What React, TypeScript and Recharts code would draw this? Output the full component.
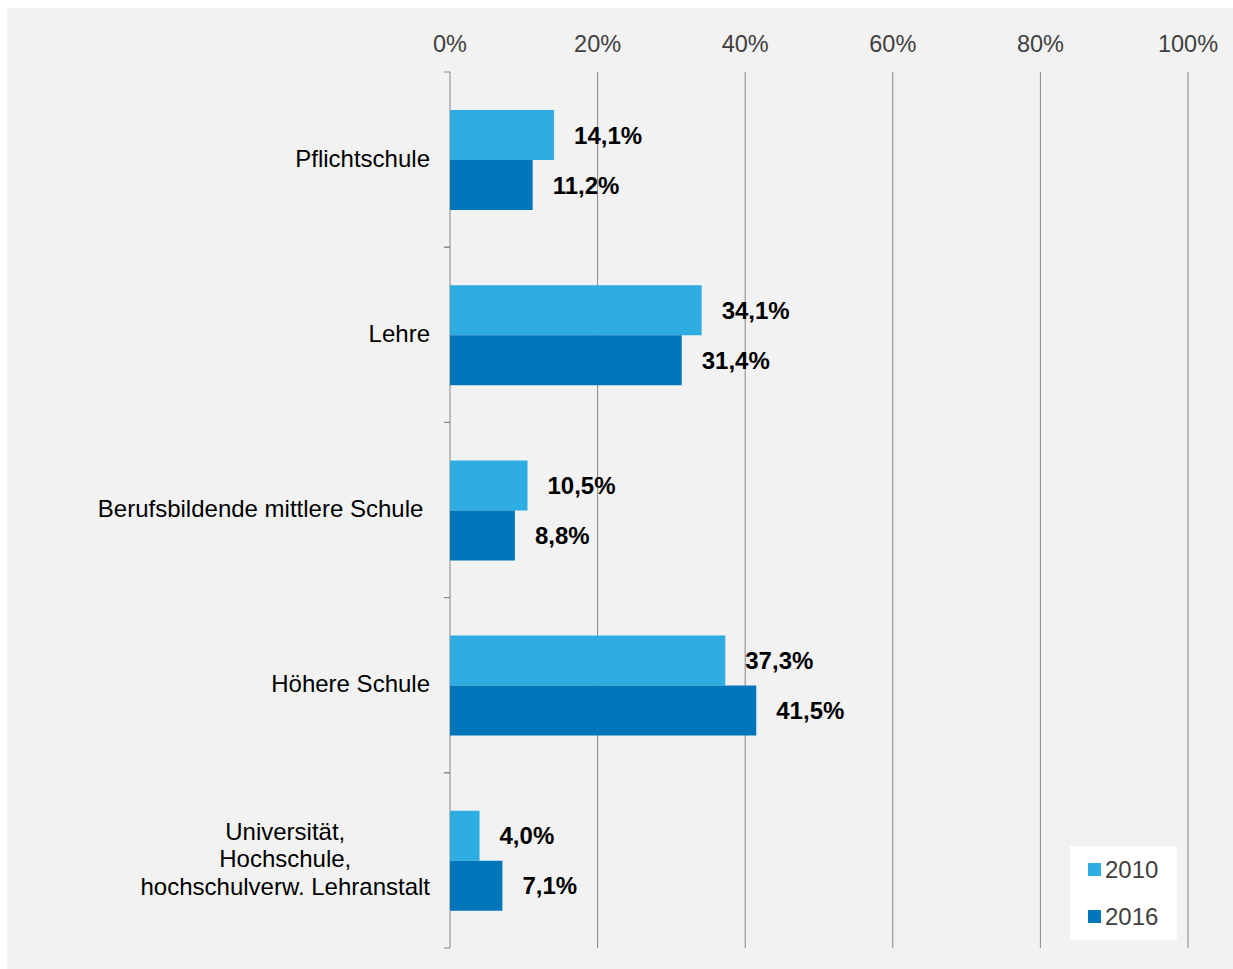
import { BarChart, Bar, XAxis, YAxis, CartesianGrid, LabelList, Legend } from 'recharts';

const FONT = '"Liberation Sans", Arial, sans-serif';

const categories = [
  'Pflichtschule',
  'Lehre',
  'Berufsbildende mittlere Schule ',
  'Höhere Schule',
  'Universität,\nHochschule,\nhochschulverw. Lehranstalt',
];
const values2010 = [14.1, 34.1, 10.5, 37.3, 4.0];
const values2016 = [11.2, 31.4, 8.8, 41.5, 7.1];
const xTicks = [0, 20, 40, 60, 80, 100];

const data = categories.map((name, i) => ({
  name,
  y2010: values2010[i],
  y2016: values2016[i],
}));

const fmtValue = (v: any) => `${Number(v).toFixed(1).replace('.', ',')}%`;

let ctx: CanvasRenderingContext2D | null = null;
const textWidth = (s: string) => {
  if (!ctx) ctx = document.createElement('canvas').getContext('2d');
  if (!ctx) return s.length * 11;
  ctx.font = `24px ${FONT}`;
  return ctx.measureText(s).width;
};

// category label, centred lines, right edge at the tick position,
// plus the small ticks at band boundaries
const CategoryTick = (props: any) => {
  const { x, y, payload } = props;
  const lines = String(payload.value).split('\n');
  const w = Math.max(...lines.map(textWidth));
  const cx = x - w / 2;
  const lh = 27.5;
  const half = payload.offset ?? 0;
  const axisX = x + 20;
  return (
    <g>
      <line x1={axisX - 6} x2={axisX} y1={y - half} y2={y - half} stroke="#868686" />
      <line x1={axisX - 6} x2={axisX} y1={y + half} y2={y + half} stroke="#868686" />
      <text x={cx} y={y} textAnchor="middle" fontSize={24} fill="#000" fontFamily={FONT} style={{ whiteSpace: 'pre' }}>
        {lines.map((l, i) => (
          <tspan key={i} x={cx} dy={i === 0 ? -((lines.length - 1) / 2) * lh + 7 : lh}>
            {l}
          </tspan>
        ))}
      </text>
    </g>
  );
};

const renderLegend = (props: any) => (
  <div style={{ background: '#fff', width: 107, height: 94, boxSizing: 'border-box', paddingLeft: 18, fontFamily: FONT }}>
    {(props.payload || []).map((entry: any, i: number) => (
      <div key={i} style={{ height: 47, display: 'flex', alignItems: 'center' }}>
        <span style={{ display: 'inline-block', width: 13, height: 13, background: entry.color, marginRight: 4 }} />
        <span style={{ fontSize: 24, color: '#404040' }}>{entry.value}</span>
      </div>
    ))}
  </div>
);

export default function App() {
  return (
    <div style={{ position: 'fixed', left: 7, top: 8, width: 1226, height: 961, background: '#f2f2f2', fontFamily: FONT }}>
      <BarChart
        layout="vertical"
        width={1226}
        height={961}
        data={data}
        margin={{ top: 34, right: 45, bottom: 21, left: 0 }}
        barSize={50}
        barGap={0}
      >
        <CartesianGrid horizontal={false} stroke="#868686" />
        <XAxis
          type="number"
          orientation="top"
          domain={[0, 100]}
          ticks={xTicks}
          tickFormatter={(v) => `${v}%`}
          axisLine={false}
          tickLine={false}
          tickSize={0}
          tickMargin={20}
          height={30}
          tick={{ fontSize: 23.5, fill: '#404040', fontFamily: FONT }}
        />
        <YAxis
          type="category"
          dataKey="name"
          width={443}
          axisLine={false}
          tickLine={false}
          tickSize={0}
          tickMargin={20}
          tick={<CategoryTick />}
          interval={0}
        />
        <Legend
          layout="vertical"
          align="center"
          verticalAlign="middle"
          wrapperStyle={{ left: 1063, top: 838, width: 107, height: 94 }}
          content={renderLegend}
        />
        <Bar dataKey="y2010" name="2010" fill="#2eade3" isAnimationActive={false}>
          <LabelList dataKey="y2010" position="right" offset={20} formatter={fmtValue} fill="#000" fontSize={24} fontWeight="bold" fontFamily={FONT} />
        </Bar>
        <Bar dataKey="y2016" name="2016" fill="#0077ba" isAnimationActive={false}>
          <LabelList dataKey="y2016" position="right" offset={20} formatter={fmtValue} fill="#000" fontSize={24} fontWeight="bold" fontFamily={FONT} />
        </Bar>
      </BarChart>
    </div>
  );
}
